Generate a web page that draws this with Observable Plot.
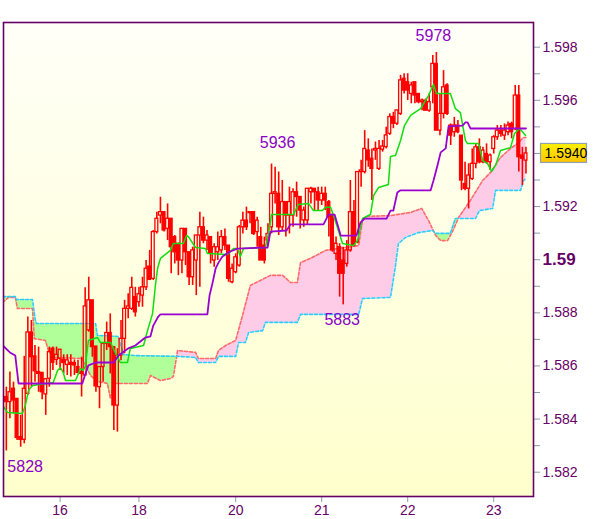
<!DOCTYPE html>
<html><head><meta charset="utf-8">
<script src="https://cdn.jsdelivr.net/npm/d3@7"></script>
<script src="https://cdn.jsdelivr.net/npm/@observablehq/plot@0.6"></script>
<style>html,body{margin:0;padding:0;background:#fff;} #chart svg{display:block;}</style>
</head><body><div id="chart"></div>
<script>
// ---- hourly candles (bar index 0..145) ----
const open = [1.58483,1.58464,1.58514,1.58476,1.58332,1.58322,1.58495,1.58726,1.58636,1.58577,
1.58574,1.58493,1.58552,1.58665,1.58623,1.58627,1.58623,1.58604,1.58612,1.58611,
1.58596,1.58577,1.58564,1.58734,1.58847,1.58673,1.58520,1.58596,1.58683,1.58724,
1.58671,1.58451,1.58639,1.58702,1.58815,1.58815,1.58859,1.58840,1.58865,1.58896,
1.58974,1.58928,1.59104,1.59166,1.59179,1.59116,1.59154,1.59085,1.59060,1.58997,
1.59116,1.59028,1.58934,1.58997,1.59091,1.59122,1.59072,1.59085,1.58997,1.59028,
1.59035,1.59085,1.59053,1.58915,1.58953,1.58978,1.59122,1.59147,1.59175,1.59179,
1.59104,1.59085,1.59053,1.59072,1.59122,1.59248,1.59248,1.59122,1.59217,1.59166,
1.59166,1.59254,1.59236,1.59148,1.59148,1.59254,1.59267,1.59254,1.59223,1.59248,
1.59217,1.59166,1.59022,1.59047,1.58997,1.58984,1.59035,1.59179,1.59066,1.59330,
1.59330,1.59411,1.59380,1.59411,1.59342,1.59414,1.59424,1.59474,1.59537,1.59512,
1.59549,1.59681,1.59668,1.59624,1.59668,1.59624,1.59593,1.59599,1.59561,1.59649,
1.59737,1.59486,1.59549,1.59656,1.59505,1.59480,1.59505,1.59467,1.59285,1.59267,
1.59304,1.59361,1.59423,1.59367,1.59398,1.59367,1.59417,1.59461,1.59486,1.59467,
1.59480,1.59511,1.59492,1.59618,1.59392,1.59373];
const high = [1.58520,1.58577,1.58539,1.58476,1.58414,1.58636,1.58784,1.58771,1.58677,1.58671,
1.58574,1.58550,1.58671,1.58671,1.58671,1.58661,1.58642,1.58642,1.58642,1.58623,
1.58621,1.58633,1.58894,1.58934,1.58847,1.58673,1.58596,1.58683,1.58765,1.58796,
1.58671,1.58665,1.58771,1.58847,1.58872,1.58934,1.58896,1.58896,1.58934,1.58997,
1.59035,1.59110,1.59179,1.59235,1.59179,1.59210,1.59154,1.59091,1.59060,1.59116,
1.59116,1.59028,1.59047,1.59091,1.59179,1.59160,1.59110,1.59085,1.59060,1.59104,
1.59110,1.59116,1.59053,1.58984,1.59022,1.59129,1.59179,1.59198,1.59179,1.59179,
1.59160,1.59122,1.59085,1.59135,1.59360,1.59348,1.59330,1.59298,1.59217,1.59273,
1.59267,1.59292,1.59236,1.59198,1.59267,1.59273,1.59267,1.59273,1.59273,1.59273,
1.59223,1.59173,1.59085,1.59060,1.59047,1.59072,1.59298,1.59223,1.59330,1.59374,
1.59486,1.59455,1.59417,1.59443,1.59449,1.59449,1.59499,1.59549,1.59555,1.59562,
1.59694,1.59700,1.59700,1.59668,1.59668,1.59624,1.59605,1.59605,1.59624,1.59769,
1.59780,1.59624,1.59712,1.59662,1.59511,1.59536,1.59524,1.59467,1.59367,1.59361,
1.59417,1.59436,1.59455,1.59423,1.59436,1.59398,1.59467,1.59505,1.59505,1.59511,
1.59518,1.59518,1.59656,1.59656,1.59423,1.59423];
const low = [1.58280,1.58401,1.58420,1.58319,1.58294,1.58307,1.58489,1.58520,1.58539,1.58501,
1.58473,1.58414,1.58520,1.58583,1.58602,1.58583,1.58570,1.58564,1.58558,1.58564,
1.58570,1.58483,1.58564,1.58727,1.58633,1.58501,1.58439,1.58539,1.58658,1.58570,
1.58357,1.58351,1.58620,1.58646,1.58778,1.58809,1.58784,1.58821,1.58821,1.58884,
1.58922,1.58922,1.59097,1.59135,1.59104,1.59072,1.58947,1.58984,1.58940,1.58947,
1.58978,1.58903,1.58903,1.58865,1.58896,1.59060,1.59035,1.58984,1.58972,1.58997,
1.59022,1.59035,1.58915,1.58909,1.58947,1.58972,1.59097,1.59110,1.59135,1.59091,
1.59047,1.58997,1.58984,1.59053,1.59097,1.59210,1.59091,1.59110,1.59085,1.59097,
1.59122,1.59160,1.59116,1.59122,1.59129,1.59210,1.59185,1.59185,1.59204,1.59185,
1.59085,1.59028,1.58997,1.58859,1.58830,1.58972,1.59028,1.59047,1.59060,1.59273,
1.59323,1.59348,1.59223,1.59374,1.59336,1.59405,1.59417,1.59468,1.59493,1.59505,
1.59543,1.59624,1.59599,1.59587,1.59587,1.59587,1.59561,1.59561,1.59555,1.59587,
1.59486,1.59467,1.59530,1.59543,1.59430,1.59461,1.59474,1.59260,1.59260,1.59191,
1.59298,1.59342,1.59361,1.59361,1.59361,1.59336,1.59398,1.59449,1.59461,1.59449,
1.59467,1.59455,1.59486,1.59330,1.59279,1.59323];
const close = [1.58464,1.58501,1.58470,1.58329,1.58322,1.58514,1.58726,1.58633,1.58580,1.58570,
1.58501,1.58550,1.58652,1.58612,1.58642,1.58661,1.58611,1.58621,1.58604,1.58602,
1.58574,1.58570,1.58824,1.58847,1.58671,1.58523,1.58596,1.58683,1.58724,1.58671,
1.58451,1.58639,1.58702,1.58815,1.58824,1.58894,1.58802,1.58870,1.58896,1.58966,
1.58924,1.59104,1.59154,1.59179,1.59110,1.59154,1.59047,1.59028,1.58997,1.59116,
1.59028,1.58934,1.59035,1.59091,1.59122,1.59072,1.59091,1.59022,1.59047,1.59047,
1.59085,1.59053,1.58928,1.58966,1.59009,1.59122,1.59147,1.59122,1.59179,1.59097,
1.59147,1.58997,1.58997,1.59097,1.59248,1.59254,1.59122,1.59217,1.59166,1.59217,
1.59254,1.59236,1.59185,1.59185,1.59267,1.59267,1.59254,1.59223,1.59248,1.59223,
1.59160,1.59035,1.59060,1.58947,1.58947,1.59035,1.59179,1.59053,1.59330,1.59336,
1.59417,1.59374,1.59342,1.59417,1.59417,1.59426,1.59468,1.59537,1.59512,1.59562,
1.59675,1.59637,1.59637,1.59656,1.59618,1.59593,1.59599,1.59561,1.59593,1.59737,
1.59486,1.59549,1.59649,1.59549,1.59467,1.59505,1.59480,1.59298,1.59267,1.59317,
1.59361,1.59423,1.59367,1.59411,1.59367,1.59392,1.59461,1.59486,1.59474,1.59486,
1.59505,1.59480,1.59618,1.59386,1.59380,1.59400];

// ---- Ichimoku lines as [bar index, price] read at their turning points ----
const tenkan = [[-1,1.58451],[0.3,1.58425],[4.5,1.58421],[5.3,1.58451],[6.2,1.58508],[7.3,1.58526],[13.1,1.58538],[14.3,1.58583],[15.1,1.58594],[15.9,1.58575],[16.5,1.58545],[19.3,1.58545],[20.7,1.58590],[21.5,1.58583],[22.1,1.58602],[22.9,1.58696],[25.4,1.58707],[26.3,1.58688],[29.1,1.58688],[30.5,1.58647],[31.8,1.58613],[33.8,1.58613],[34.6,1.58666],[38.3,1.58677],[39.4,1.58733],[40.8,1.58797],[41.6,1.58903],[42.2,1.58967],[43,1.59005],[44.4,1.59020],[45.8,1.59035],[46.6,1.59061],[49.4,1.59061],[50.3,1.59091],[50.8,1.59087],[52.8,1.59046],[55.6,1.59042],[56.1,1.59023],[61.7,1.59020],[63.4,1.59042],[64.5,1.59042],[65.3,1.59012],[66.2,1.59042],[72.3,1.59046],[73.2,1.59102],[74,1.59170],[80.1,1.59170],[81.5,1.59208],[84.3,1.59212],[85.7,1.59185],[88.2,1.59185],[89.1,1.59197],[90.5,1.59197],[91.3,1.59166],[92.4,1.59121],[93.8,1.59061],[96.9,1.59053],[98,1.59072],[99.4,1.59155],[101.6,1.59170],[102.5,1.59242],[103.9,1.59272],[106.6,1.59283],[107.2,1.59389],[108.6,1.59392],[110,1.59449],[111.1,1.59505],[112.8,1.59543],[115.6,1.59569],[117.8,1.59618],[119.2,1.59660],[120,1.59626],[123.9,1.59626],[125.3,1.59569],[126.7,1.59554],[128.1,1.59449],[128.7,1.59437],[131.8,1.59437],[132.9,1.59373],[134.3,1.59362],[135.4,1.59332],[136.5,1.59355],[137.9,1.59411],[140.7,1.59422],[141.8,1.59475],[143.2,1.59494],[144.9,1.59468]];
const kijun = [[-1,1.58677],[1,1.58651],[2.5,1.58639],[3.4,1.58534],[21.2,1.58534],[22.1,1.58572],[22.9,1.58602],[25,1.58613],[30,1.58613],[31.3,1.58639],[32.4,1.58651],[34,1.58666],[36,1.58677],[37.4,1.58692],[38.8,1.58707],[40.2,1.58711],[41,1.58752],[42.4,1.58786],[43,1.58794],[56.1,1.58794],[56.7,1.58865],[57.5,1.58910],[58.4,1.58967],[59.2,1.58989],[60.3,1.59012],[62.5,1.59031],[64.5,1.59042],[72.9,1.59046],[73.7,1.59106],[78.2,1.59110],[79.3,1.59133],[88.5,1.59133],[89.9,1.59170],[91.6,1.59170],[93.3,1.59091],[97.7,1.59091],[98.8,1.59140],[99.9,1.59155],[106.1,1.59155],[107.2,1.59185],[108,1.59185],[109.1,1.59253],[110,1.59261],[118.4,1.59261],[119.2,1.59298],[120.3,1.59355],[121.2,1.59404],[122.6,1.59419],[123.4,1.59502],[127.3,1.59505],[128.1,1.59517],[128.7,1.59517],[129.5,1.59494],[145,1.59494]];
const spanA = [[-1,1.58839],[0.6,1.58858],[2.5,1.58858],[3.1,1.58816],[7.3,1.58816],[7.8,1.58703],[10.9,1.58696],[11.75,1.58658],[13.1,1.58632],[21.2,1.58628],[22.1,1.58602],[23.5,1.58564],[25.4,1.58542],[28.2,1.58534],[29.05,1.58477],[29.9,1.58534],[39.4,1.58534],[40.2,1.58564],[43,1.58545],[45.8,1.58553],[46.6,1.58560],[47.8,1.58658],[52.8,1.58651],[53.6,1.58628],[58.4,1.58628],[59.2,1.58658],[61.2,1.58677],[64,1.58696],[65.9,1.58790],[68.1,1.58903],[70.9,1.58922],[73.7,1.58941],[77.1,1.58941],[79.3,1.58914],[81.2,1.58914],[82.1,1.58989],[84.9,1.59005],[89.1,1.59035],[94.6,1.59046],[98.3,1.59053],[99.4,1.59148],[100.8,1.59163],[107.2,1.59166],[112.8,1.59178],[115.9,1.59193],[117.8,1.59148],[119.8,1.59091],[121.2,1.59072],[123.1,1.59072],[124.5,1.59106],[126.2,1.59159],[129.5,1.59223],[132.9,1.59298],[135.1,1.59328],[137.9,1.59385],[140.7,1.59419],[142.6,1.59437],[144.3,1.59460],[145,1.59460]];
const spanB = [[-1,1.58861],[2.5,1.58861],[2.8,1.58850],[7.3,1.58850],[8.1,1.58771],[8.4,1.58760],[24.9,1.58760],[25.4,1.58715],[31.3,1.58711],[32.1,1.58670],[32.7,1.58643],[36,1.58639],[47.8,1.58636],[52.8,1.58632],[53.6,1.58613],[58.4,1.58613],[59.2,1.58636],[64,1.58636],[64.8,1.58688],[66.7,1.58688],[67.6,1.58726],[71.5,1.58733],[72.3,1.58764],[81.2,1.58764],[82.1,1.58794],[98.3,1.58794],[99.4,1.58854],[107.2,1.58858],[108.6,1.58978],[109.4,1.59061],[111.4,1.59084],[115,1.59102],[118.9,1.59110],[119.8,1.59099],[123.9,1.59099],[125.3,1.59155],[130.9,1.59155],[132,1.59185],[135.7,1.59193],[136.5,1.59261],[143.5,1.59261],[144.3,1.59298],[145,1.59306]];

// ---- axes ----
const yTicks = [1.582,1.584,1.586,1.588,1.590,1.592,1.594,1.596,1.598];
const yMinorTicks = [1.583,1.585,1.587,1.589,1.591,1.593,1.595,1.597];
const xTickIdx = [15,37,64,88,112,136];
const xTickLabels = ["16","18","20","21","22","23"];
// extremes labelled on the chart (bar index and which end of the bar)
const extremes = [{i:0,kind:"low"},{i:74,kind:"high"},{i:94,kind:"low"},{i:120,kind:"high"}];

const candles = open.map((o,i)=>({i, open:o, high:high[i], low:low[i], close:close[i]}));
const bear = candles.filter(d=>d.close<d.open);
const bull = candles.filter(d=>d.close>=d.open);

function val(pts,x){
  for(let k=0;k<pts.length-1;k++){const [x0,y0]=pts[k],[x1,y1]=pts[k+1];
    if(x>=x0&&x<=x1) return x1===x0?y1:y0+(y1-y0)*(x-x0)/(x1-x0);}
  return NaN;
}
const lo=Math.max(spanA[0][0],spanB[0][0]), hi=Math.min(spanA[spanA.length-1][0],spanB[spanB.length-1][0]);
const xs=Array.from(new Set([...spanA.map(p=>p[0]),...spanB.map(p=>p[0])])).sort((a,b)=>a-b).filter(x=>x>=lo&&x<=hi);
const cloud=[];
xs.forEach((x,k)=>{const a=val(spanA,x),b=val(spanB,x);
  if(k>0){const p=cloud[cloud.length-1];const d0=p.a-p.b,d1=a-b;
    if(d0*d1<0){const t=d0/(d0-d1);cloud.push({x:p.x+(x-p.x)*t,a:p.a+(a-p.a)*t,b:p.b+(b-p.b)*t});}}
  cloud.push({x,a,b});});

const labelMap=new Map(xTickIdx.map((d,k)=>[d,xTickLabels[k]]));
const ext=extremes.map(e=>({i:e.i,kind:e.kind,v:e.kind==="high"?high[e.i]:low[e.i]}));
const fmtExt=v=>String(Math.round(v*1e4)).slice(-4);
const last=close[close.length-1];
const lastLabel=d3.format(".4f")(last);

const txtColor="#660066", tickColor="#8c9cac", annColor="#8a00c8";
const yFmt=d=>{
  if(Math.abs(d-last)<0.0006) return "";           // hidden behind the price box
  return Math.abs(d-1.59)<1e-9?"1.59":d.toFixed(3);
};
const annOpts={x:"i",y:"v",text:d=>fmtExt(d.v),fill:annColor,fontSize:16,lineAnchor:"middle"};
const plot=Plot.plot({
  width:600,height:519,marginLeft:3,marginRight:67,marginTop:22,marginBottom:23,
  x:{domain:[-0.79,147.1],axis:null},
  y:{domain:[1.581085,1.59893],axis:null},
  style:{fontFamily:"'Liberation Sans', Arial, sans-serif",fontSize:"14px",background:"#fff",overflow:"visible"},
  marks:[
    Plot.frame({fill:"url(#bgGrad)",stroke:"none"}),
    Plot.areaY(cloud,{x:"x",y1:"a",y2:d=>Math.max(d.a,d.b),fill:"#b0ff98",clip:true}),
    Plot.areaY(cloud,{x:"x",y1:"b",y2:d=>Math.max(d.a,d.b),fill:"#ffcce8",clip:true}),
    Plot.line(spanA,{x:d=>d[0],y:d=>d[1],stroke:"#ff6a6a",strokeWidth:1.6,strokeDasharray:"3,2",clip:true}),
    Plot.line(spanB,{x:d=>d[0],y:d=>d[1],stroke:"#2ecbff",strokeWidth:1.6,strokeDasharray:"3,2",clip:true}),
    Plot.ruleX(candles,{x:"i",y1:"high",y2:d=>Math.max(d.open,d.close),stroke:"#ff0000",strokeWidth:1.6}),
    Plot.ruleX(candles,{x:"i",y1:"low",y2:d=>Math.min(d.open,d.close),stroke:"#ff0000",strokeWidth:1.6}),
    Plot.rect(bear,{x1:d=>d.i-0.4,x2:d=>d.i+0.4,y1:"open",y2:"close",fill:"#ff0000",stroke:"#ff0000",strokeWidth:1.3}),
    Plot.rect(bull,{x1:d=>d.i-0.4,x2:d=>d.i+0.4,y1:"open",y2:"close",fill:"none",stroke:"#ff0000",strokeWidth:1.3}),
    Plot.line(tenkan,{x:d=>d[0],y:d=>d[1],stroke:"#11dd11",strokeWidth:1.5,clip:true}),
    Plot.line(kijun,{x:d=>d[0],y:d=>d[1],stroke:"#9a00d0",strokeWidth:1.8,clip:true}),
    // extreme labels
    Plot.text(ext.filter(d=>d.kind==="low"&&d.i===0),{...annOpts,textAnchor:"start",dx:1,dy:16}),
    Plot.text(ext.filter(d=>d.kind==="low"&&d.i>0),{...annOpts,textAnchor:"middle",dx:-1,dy:15}),
    Plot.text(ext.filter(d=>d.kind==="high"&&d.i<100),{...annOpts,textAnchor:"middle",dx:6,dy:-21}),
    Plot.text(ext.filter(d=>d.kind==="high"&&d.i>=100),{...annOpts,textAnchor:"middle",dx:-3,dy:-17}),
    Plot.axisX({ticks:xTickIdx,tickFormat:d=>labelMap.get(d),tickSize:6,tickPadding:3,stroke:tickColor,fill:txtColor,fontSize:14,label:null}),
    Plot.axisY({anchor:"right",ticks:yTicks,tickFormat:yFmt,tickSize:6,tickPadding:3,stroke:tickColor,fill:txtColor,fontSize:14,label:null}),
    Plot.axisY({anchor:"right",ticks:yMinorTicks,tickFormat:()=>"",tickSize:6,stroke:tickColor,label:null}),
    Plot.text([last],{y:d=>d,frameAnchor:"right",dx:11,textAnchor:"start",text:()=>lastLabel,fill:"#000",fontSize:14}),
    Plot.frame({stroke:"#660066",strokeWidth:1.6})
  ]
});
document.getElementById("chart").appendChild(plot);

const svg=d3.select(plot);
const defs=svg.insert("defs",":first-child");
const g1=defs.append("linearGradient").attr("id","bgGrad").attr("x1",0).attr("y1",0).attr("x2",0).attr("y2",1);
g1.append("stop").attr("offset","0%").attr("stop-color","#fffff8");
g1.append("stop").attr("offset","100%").attr("stop-color","#ffffcc");
const g2=defs.append("linearGradient").attr("id","goldGrad").attr("x1",0).attr("y1",0).attr("x2",0).attr("y2",1);
g2.append("stop").attr("offset","0%").attr("stop-color","#fff200");
g2.append("stop").attr("offset","100%").attr("stop-color","#ffc400");

// bold 1.59
svg.selectAll("text").filter(function(){return this.textContent==="1.59";})
  .attr("font-weight","bold").attr("font-size",17);
// price box behind the last-price text
const sy=plot.scale("y");
const lpText=svg.selectAll("text").filter(function(){return this.textContent===lastLabel;}).node();
if(lpText){
  const gNode=lpText.closest("g")||lpText;
  const yv=sy.apply(last);
  const r=document.createElementNS("http://www.w3.org/2000/svg","rect");
  r.setAttribute("x",540.5);r.setAttribute("y",yv-9.5);r.setAttribute("width",46);r.setAttribute("height",19);
  r.setAttribute("fill","url(#goldGrad)");r.setAttribute("stroke","#8fa0b0");r.setAttribute("stroke-width",1.2);
  gNode.parentNode.insertBefore(r,gNode);
}
</script></body></html>
